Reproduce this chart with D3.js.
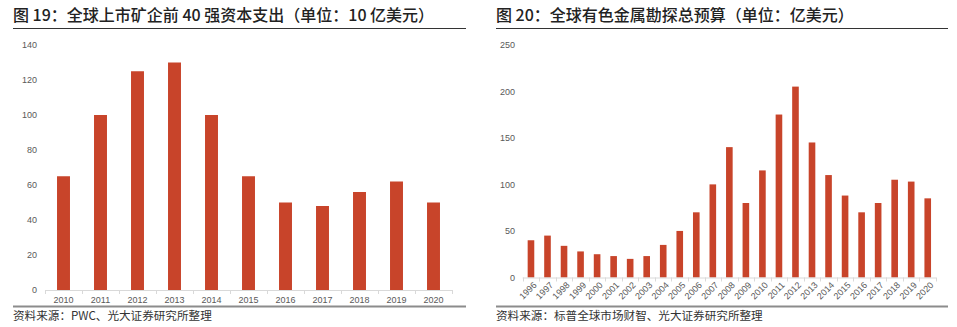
<!DOCTYPE html>
<html><head><meta charset="utf-8">
<script src="https://cdn.jsdelivr.net/npm/d3@7"></script>
<style>
body{margin:0;background:#fff;}
svg{display:block;}
</style></head>
<body>
<svg id="c" width="957" height="327"></svg>
<script>
// ---- Data ----
const title1 = "图 19：全球上市矿企前 40 强资本支出（单位：10 亿美元）";
const source1 = "资料来源：PWC、光大证券研究所整理";
const years1 = ["2010","2011","2012","2013","2014","2015","2016","2017","2018","2019","2020"];
const capex = [65,100,125,130,100,65,50,48,56,62,50];
const yTicks1 = [0,20,40,60,80,100,120,140];

const title2 = "图 20：全球有色金属勘探总预算（单位：亿美元）";
const source2 = "资料来源：标普全球市场财智、光大证券研究所整理";
const years2 = ["1996","1997","1998","1999","2000","2001","2002","2003","2004","2005","2006","2007","2008","2009","2010","2011","2012","2013","2014","2015","2016","2017","2018","2019","2020"];
const budget = [40,45,34,28,25,23,20,23,35,50,70,100,140,80,115,175,205,145,110,88,70,80,105,103,85];
const yTicks2 = [0,50,100,150,200,250];

const barColor = "#c8442a";
const cjk = "'Noto Sans CJK SC','Noto Sans',sans-serif";
const latin = "'Liberation Sans',Arial,sans-serif";

const svg = d3.select("#c");

function panel(o){
  const g = svg.append("g");
  // title
  g.append("text").attr("x", o.left).attr("y", 21)
    .attr("font-family", cjk).attr("font-size", 16).attr("font-weight", 500)
    .attr("fill", "#222").text(o.title);
  g.append("line").attr("x1", o.left).attr("x2", o.right).attr("y1", 28.5).attr("y2", 28.5)
    .attr("stroke", "#333").attr("stroke-width", 1.2);
  // source line
  g.append("line").attr("x1", o.left).attr("x2", o.right).attr("y1", 306.5).attr("y2", 306.5)
    .attr("stroke", "#8c8c8c").attr("stroke-width", 2);
  g.append("text").attr("x", o.left).attr("y", 320)
    .attr("font-family", cjk).attr("font-size", 11.6).attr("fill", "#333").text(o.source);

  const x = d3.scaleBand().domain(o.cats).range([o.x0, o.x1]).paddingInner(o.pad).paddingOuter(o.pad/2);
  const y = d3.scaleLinear().domain([0, o.ymax]).range([o.y0, o.y1]);

  // y axis labels
  const ya = g.append("g").attr("transform", `translate(${o.yLabelX},0)`)
    .call(d3.axisLeft(y).tickValues(o.yTicks).tickSize(0).tickPadding(0));
  ya.select(".domain").remove();
  ya.selectAll("text").attr("font-family", latin).attr("font-size", 9).attr("fill", "#595959");

  // bars
  g.selectAll("rect.bar").data(o.vals).join("rect")
    .attr("x", (d,i) => x(o.cats[i])).attr("width", x.bandwidth())
    .attr("y", d => y(d)).attr("height", d => y(0) - y(d))
    .attr("fill", barColor);

  // x axis line + boundary ticks
  g.append("line").attr("x1", o.x0).attr("x2", o.x1).attr("y1", y(0)+0.5).attr("y2", y(0)+0.5)
    .attr("stroke", "#d9d9d9").attr("stroke-width", 1);
  const step = x.step();
  const bounds = d3.range(o.cats.length + 1).map(i => o.x0 + i*step);
  g.selectAll("line.tk").data(bounds).join("line")
    .attr("x1", d => Math.round(d)+0.5).attr("x2", d => Math.round(d)+0.5)
    .attr("y1", y(0)).attr("y2", y(0)+4)
    .attr("stroke", "#d9d9d9");

  const xa = g.append("g").attr("transform", `translate(0,${y(0)})`)
    .call(d3.axisBottom(x).tickSize(0).tickPadding(o.rot ? 6 : 7));
  xa.select(".domain").remove();
  xa.selectAll("text").attr("font-family", latin).attr("font-size", 9).attr("fill", "#595959");
  if (o.rot) {
    xa.selectAll("text").attr("text-anchor", "end").attr("dy", "0.35em")
      .attr("transform", "translate(4,6) rotate(-45)").attr("y", 0).attr("x", 0);
  }
}

panel({title: title1, source: source1, left: 13, right: 466,
  cats: years1, vals: capex, yTicks: yTicks1, ymax: 140,
  x0: 45, x1: 452, y0: 290, y1: 45, pad: 0.65, yLabelX: 37, rot: false});

panel({title: title2, source: source2, left: 496, right: 948,
  cats: years2, vals: budget, yTicks: yTicks2, ymax: 250,
  x0: 522.7, x1: 936, y0: 277.5, y1: 44.7, pad: 0.6, yLabelX: 515, rot: true});
</script>
</body></html>
